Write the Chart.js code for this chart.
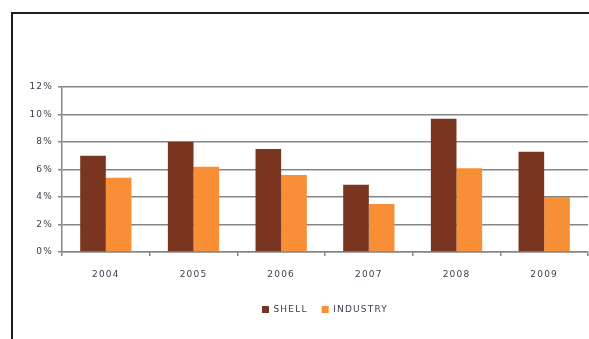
<!DOCTYPE html>
<html>
<head>
<meta charset="utf-8">
<script src="https://cdn.jsdelivr.net/npm/chart.js@4/dist/chart.umd.min.js"></script>
<style>
  html, body { margin: 0; padding: 0; background: #fff; }
  #wrap { position: relative; width: 589px; height: 339px; overflow: hidden; }
  #frame { position: absolute; left: 11px; top: 12px; width: 700px; height: 500px;
           border-left: 2px solid #1e1e1e; border-top: 2px solid #1e1e1e; }
  canvas { position: absolute; left: 0; top: 0; }
</style>
</head>
<body>
<div id="wrap">
  <div id="frame"></div>
  <canvas id="c" width="589" height="339"></canvas>
</div>
<script>
const categories = ['2004', '2005', '2006', '2007', '2008', '2009'];
const shellValues = [7.0, 8.0, 7.5, 4.9, 9.7, 7.3];
const industryValues = [5.4, 6.2, 5.6, 3.5, 6.1, 4.0];
const yTicks = [0, 2, 4, 6, 8, 10, 12];

const TEXT = '#3b3b50';
const GRID = '#858585';

const spacingPlugin = {
  id: 'spacing',
  beforeLayout(chart) { chart.ctx.letterSpacing = '1.2px'; },
  beforeDraw(chart) { chart.ctx.letterSpacing = '1.2px'; }
};

new Chart(document.getElementById('c'), {
  type: 'bar',
  data: {
    labels: categories,
    datasets: [
      { label: 'SHELL', data: shellValues, backgroundColor: '#7a3520',
        categoryPercentage: 0.585, barPercentage: 1.0 },
      { label: 'INDUSTRY', data: industryValues, backgroundColor: '#f88f36',
        categoryPercentage: 0.585, barPercentage: 1.0 }
    ]
  },
  options: {
    responsive: false,
    animation: false,
    devicePixelRatio: 1,
    layout: { padding: { top: 87, left: 0, right: 1, bottom: 15 } },
    font: { family: '"DejaVu Sans", sans-serif', size: 9 },
    plugins: {
      tooltip: { enabled: false },
      legend: {
        position: 'bottom',
        fullSize: false,
        labels: {
          color: TEXT,
          font: { family: '"DejaVu Sans", sans-serif', size: 9 },
          boxWidth: 7,
          boxHeight: 7,
          padding: 14
        }
      }
    },
    scales: {
      x: {
        grid: { display: true, drawOnChartArea: false, drawTicks: true, tickLength: 4,
                color: GRID, lineWidth: 1.5, offset: true },
        border: { display: true, color: GRID, width: 1.5 },
        ticks: { color: TEXT, padding: 13, maxRotation: 0,
                 font: { family: '"DejaVu Sans", sans-serif', size: 9 } },
        afterFit(scale) { scale.height = 39; }
      },
      y: {
        min: 0,
        max: 12,
        afterBuildTicks(scale) { scale.ticks = yTicks.map(v => ({ value: v })); },
        grid: { color: GRID, lineWidth: 1.5, tickLength: 4, drawTicks: true },
        border: { display: true, color: GRID, width: 1.5 },
        ticks: { color: TEXT, padding: 5, callback: v => v + '%',
                 font: { family: '"DejaVu Sans", sans-serif', size: 9 } },
        afterFit(scale) { scale.width = 62; }
      }
    }
  },
  plugins: [spacingPlugin]
});
</script>
</body>
</html>
